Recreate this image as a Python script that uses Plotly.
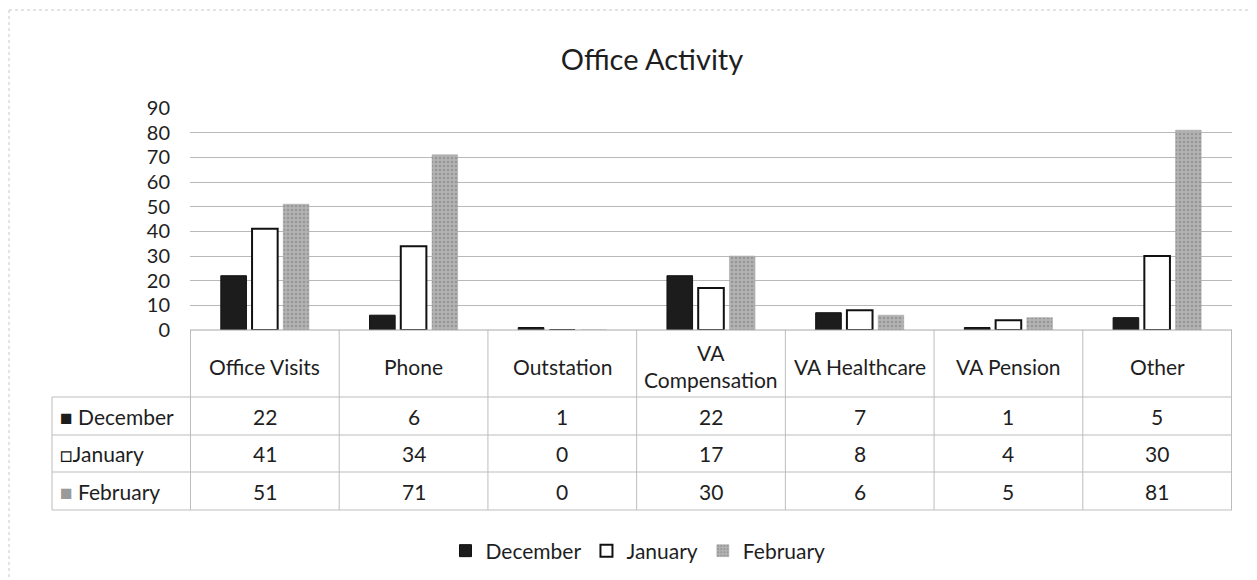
import plotly.graph_objects as go

categories = ["Office Visits", "Phone", "Outstation", "VA Compensation",
              "VA Healthcare", "VA Pension", "Other"]
header_labels = ["Office Visits", "Phone", "Outstation", "VA<br>Compensation",
                 "VA Healthcare", "VA Pension", "Other"]
series_names = ["December", "January", "February"]
december = [22, 6, 1, 22, 7, 1, 5]
january = [41, 34, 0, 17, 8, 4, 30]
february = [51, 71, 0, 30, 6, 5, 81]
y_ticks = [0, 10, 20, 30, 40, 50, 60, 70, 80, 90]

# the page body adds an 8px margin, so the figure is sized to fill the rest
OFF = 8
W, H = 1257 - OFF, 580 - OFF
FONT = "Lato, 'Noto Sans', sans-serif"
TXT = "#1e1e1e"
GRID = "#b9b9b9"


def px_x(p):
    return (p - OFF) / W


def px_y(p):
    return 1 - (p - OFF) / H


x_dom = [px_x(190), px_x(1232)]
y_dom = [px_y(330), px_y(108)]

fig = go.Figure()
fig.add_bar(name=series_names[0], x=categories, y=december,
            marker=dict(color="#1c1c1c", line=dict(color="#111111", width=1)))
fig.add_bar(name=series_names[1], x=categories, y=january,
            marker=dict(color="#ffffff", line=dict(color="#111111", width=2)))
fig.add_bar(name=series_names[2], x=categories, y=february,
            marker=dict(color="#b3b3b3", line=dict(color="#a0a0a0", width=0.5),
                        pattern=dict(shape=".", fgcolor="#7a7a7a", size=4, solidity=0.35)))

shapes = []
annotations = []
row_y = [330, 397, 435, 472, 510]
line_style = dict(color="#bdbdbd", width=1)

# vertical table lines at category boundaries
for i in range(len(categories) + 1):
    shapes.append(dict(type="line", xref="x", yref="paper", x0=i - 0.5, x1=i - 0.5,
                       y0=px_y(330), y1=px_y(510), line=line_style, layer="above"))
# row-label column left edge
shapes.append(dict(type="line", xref="paper", yref="paper", x0=px_x(52), x1=px_x(52),
                   y0=px_y(397), y1=px_y(510), line=line_style))
# horizontal table lines
for yy in row_y[1:]:
    shapes.append(dict(type="line", xref="paper", yref="paper", x0=px_x(52), x1=x_dom[1],
                       y0=px_y(yy), y1=px_y(yy), line=line_style))
shapes.append(dict(type="line", xref="paper", yref="paper", x0=x_dom[0], x1=x_dom[1],
                   y0=px_y(330), y1=px_y(330), line=dict(color="#a8a8a8", width=1)))
# outer chart border (left & top)
shapes.append(dict(type="line", xref="paper", yref="paper", x0=px_x(9), x1=px_x(9),
                   y0=px_y(10), y1=0, line=dict(color="#c8c8c8", width=1, dash="dot")))
shapes.append(dict(type="line", xref="paper", yref="paper", x0=px_x(9), x1=1,
                   y0=px_y(10), y1=px_y(10), line=dict(color="#c8c8c8", width=1, dash="dot")))

# header labels
for cat, lab in zip(categories, header_labels):
    annotations.append(dict(x=cat, xref="x", y=px_y(366), yref="paper", text=lab,
                            showarrow=False, xanchor="center", yanchor="middle",
                            font=dict(family=FONT, size=21, color=TXT), align="center"))
# data rows
keys = ['<span style="color:#1c1c1c">■</span> ',
        '<span style="color:#111">□</span>',
        '<span style="color:#9a9a9a">■</span> ']
row_centers = [416, 453, 491]
for name, vals, yc, key in zip(series_names, [december, january, february], row_centers, keys):
    annotations.append(dict(x=px_x(58), xref="paper", y=px_y(yc), yref="paper",
                            text=key + name, showarrow=False, xanchor="left", yanchor="middle",
                            font=dict(family=FONT, size=21, color=TXT)))
    for cat, v in zip(categories, vals):
        annotations.append(dict(x=cat, xref="x", y=px_y(yc), yref="paper", text=str(v),
                                showarrow=False, xanchor="center", yanchor="middle",
                                font=dict(family=FONT, size=21, color=TXT)))

fig.update_layout(
    width=W, height=H,
    margin=dict(l=0, r=0, t=0, b=0, autoexpand=False),
    paper_bgcolor="white", plot_bgcolor="white",
    title=dict(text="Office Activity", x=px_x(652), xanchor="center",
               y=px_y(60), yanchor="middle",
               font=dict(family=FONT, size=29, color=TXT)),
    barmode="group", bargap=0.37, bargroupgap=0.18,
    xaxis=dict(domain=x_dom, showticklabels=False, showgrid=False, zeroline=False,
               showline=False, ticks=""),
    yaxis=dict(domain=y_dom, range=[0, 90], tickvals=y_ticks, showgrid=True,
               gridcolor=GRID, gridwidth=1, zeroline=False, showline=False,
               ticklabelstandoff=19,
               tickfont=dict(family=FONT, size=20, color=TXT)),
    legend=dict(orientation="h", x=px_x(638), xanchor="center", y=px_y(551), yanchor="middle",
                font=dict(family=FONT, size=21, color=TXT), itemwidth=30,
                traceorder="normal"),
    shapes=shapes, annotations=annotations,
)

fig.write_html("out.html")
